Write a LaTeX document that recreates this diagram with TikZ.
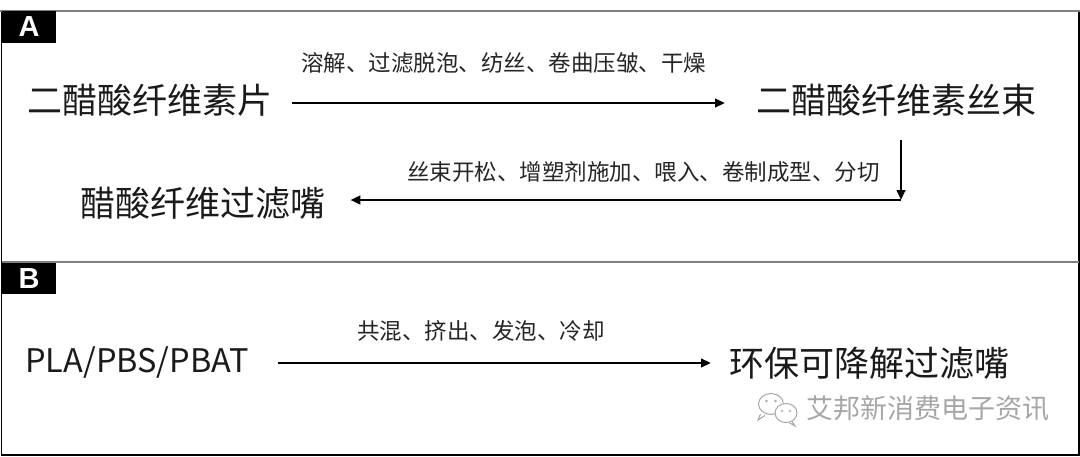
\documentclass[tikz,border=0pt]{standalone}
\usepackage{fontspec}
\usetikzlibrary{arrows.meta}
\newfontfamily\cjk{Noto Sans CJK SC}
\newfontfamily\labfont{Liberation Sans}
\definecolor{txt}{HTML}{1A1A1A}
\definecolor{lbl}{HTML}{262626}
\definecolor{rule}{HTML}{7F7F7F}
\definecolor{wm}{HTML}{A6A6A6}
\tikzset{
  big/.style={inner sep=0pt, anchor=base west, text=txt, font=\cjk\fontsize{35}{40}\selectfont},
  small/.style={inner sep=0pt, anchor=base west, text=lbl, font=\cjk\fontsize{22.5}{26}\selectfont},
  tag/.style={fill=black, text=white, inner sep=0pt, font=\labfont\bfseries\fontsize{29}{30}\selectfont},
  arr/.style={line width=2.9pt, -{Triangle[length=10pt,width=8.5pt]}},
  wmtext/.style={inner sep=0pt, anchor=base west, text=wm, font=\cjk\fontsize{27}{30}\selectfont}
}
\begin{document}
\begin{tikzpicture}[x=1pt,y=-1pt]
\useasboundingbox (0,0) rectangle (1080,456);
\fill[white] (0,0) rectangle (1080,456);
% frame
\draw[line width=1.6pt, black] (1.5,11) -- (1.5,455) -- (1079,455) -- (1079,11);
\draw[line width=2pt, rule] (0,11) -- (1080,11);
\draw[line width=1.6pt, rule] (1.5,262) -- (1079,262);
% tags
\node[tag, minimum width=54pt, minimum height=32pt] (tagA) at (29,27) {A};
\node[tag, minimum width=54pt, minimum height=31pt] (tagB) at (29,278.5) {B};
% section A
\node[big] (n1) at (27,113.5) {二醋酸纤维素片};
\node[big] (n2) at (756,113.5) {二醋酸纤维素丝束};
\node[big] (n3) at (80,216.5) {醋酸纤维过滤嘴};
\node[small] (l1) at (301,71.6) {溶解、过滤脱泡、纺丝、卷曲压皱、干燥};
\node[small] (l2) at (407,180.6) {丝束开松、增塑剂施加、喂入、卷制成型、分切};
\coordinate (r1) at (0,103);
\coordinate (t1) at (901,140);
\coordinate (c1) at (901,200);
\draw[arr, shorten <=20pt, shorten >=31pt] (n1.east |- r1) -- (n2.west |- r1);
\draw[arr] (t1) -- (c1);
\draw[arr, shorten >=25pt] (c1) -- (n3.east |- c1);
% section B
\node[big, font=\cjk\fontsize{32.5}{36}\selectfont] (n4) at (25,372) {PLA/PBS/PBAT};
\node[big] (n5) at (729,376.5) {环保可降解过滤嘴};
\node[small] (l3) at (357,339.6) {共混、挤出、发泡、冷却};
\coordinate (r2) at (0,363);
\draw[arr, shorten <=29pt, shorten >=18pt] (n4.east |- r2) -- (n5.west |- r2);
% watermark
\begin{scope}[draw=wm, line width=1pt]
  \draw[fill=white] (771,404) ellipse [x radius=12.5pt, y radius=10.5pt];
  \draw[fill=white] (760.5,414) -- (758,420) -- (765,415.5);
  \fill[wm] (766.5,401) circle (1.3pt) (775.5,401) circle (1.3pt);
  \draw[fill=white] (786,413) ellipse [x radius=11pt, y radius=9.5pt];
  \draw[fill=white] (792,421.5) -- (795,426) -- (789,422.5);
  \fill[wm] (782,411) circle (1.1pt) (790,411) circle (1.1pt);
\end{scope}
\node[wmtext] (wm) at (806,418) {艾邦新消费电子资讯};
\end{tikzpicture}
\end{document}
